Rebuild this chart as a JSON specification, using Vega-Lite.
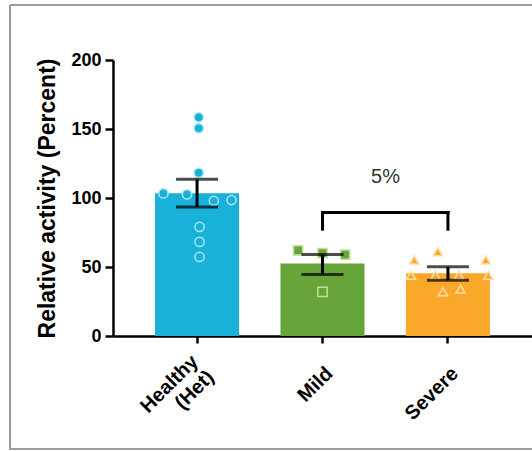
{
  "$schema": "https://vega.github.io/schema/vega-lite/v6.json",
  "autosize": {"type": "none"},
  "padding": {"left": 10, "top": 5, "right": 0, "bottom": 2},
  "width": 522,
  "height": 444,
  "background": "white",
  "config": {
    "view": {"stroke": "#9c9c9c", "strokeWidth": 2, "strokeDash": [522, 444, 966, 0]},
    "font": "Liberation Sans"
  },
  "datasets": {
    "summary": [
      {"group": "Healthy (Het)", "mean": 103.4, "lower": 93.5, "upper": 113.5},
      {"group": "Mild", "mean": 52.5, "lower": 44.5, "upper": 59.0},
      {"group": "Severe", "mean": 45.5, "lower": 40.4, "upper": 50.1}
    ],
    "points": [
      {"group": "Healthy (Het)", "value": 158.5, "jitter": 0.02},
      {"group": "Healthy (Het)", "value": 150.5, "jitter": 0.02},
      {"group": "Healthy (Het)", "value": 118.3, "jitter": 0.02},
      {"group": "Healthy (Het)", "value": 103.3, "jitter": -0.4},
      {"group": "Healthy (Het)", "value": 102.6, "jitter": -0.12},
      {"group": "Healthy (Het)", "value": 98.0, "jitter": 0.2},
      {"group": "Healthy (Het)", "value": 98.5, "jitter": 0.41},
      {"group": "Healthy (Het)", "value": 79.1, "jitter": 0.03},
      {"group": "Healthy (Het)", "value": 68.2, "jitter": 0.03},
      {"group": "Healthy (Het)", "value": 57.3, "jitter": 0.03},
      {"group": "Mild", "value": 62.0, "jitter": -0.29},
      {"group": "Mild", "value": 60.0, "jitter": 0.0},
      {"group": "Mild", "value": 59.0, "jitter": 0.27},
      {"group": "Mild", "value": 32.0, "jitter": 0.0},
      {"group": "Severe", "value": 61.0, "jitter": -0.12},
      {"group": "Severe", "value": 55.0, "jitter": -0.4},
      {"group": "Severe", "value": 55.0, "jitter": 0.45},
      {"group": "Severe", "value": 44.0, "jitter": -0.44},
      {"group": "Severe", "value": 44.0, "jitter": -0.15},
      {"group": "Severe", "value": 44.0, "jitter": 0.13},
      {"group": "Severe", "value": 44.0, "jitter": 0.48},
      {"group": "Severe", "value": 32.0, "jitter": -0.06},
      {"group": "Severe", "value": 34.0, "jitter": 0.15}
    ],
    "bracketLegs": [
      {"group": "Mild", "low": 77.4, "high": 89.5},
      {"group": "Severe", "low": 77.4, "high": 89.5}
    ],
    "bracketTop": [
      {"from": "Mild", "to": "Severe", "y": 89.5}
    ],
    "annotation": [
      {"group": "Mild", "y": 115.5, "label": "5%"}
    ]
  },
  "layer": [
    {
      "data": {"name": "summary"},
      "mark": {"type": "bar", "width": {"expr": "bandwidth('x')"}},
      "encoding": {
        "x": {
          "field": "group",
          "type": "nominal",
          "sort": ["Healthy (Het)", "Mild", "Severe"],
          "scale": {"domain": ["Healthy (Het)", "Mild", "Severe"], "range": [103, 522], "paddingInner": 0.33, "paddingOuter": 0.335},
          "axis": {
            "title": null,
            "offset": -113,
            "labelAngle": -45,
            "labelExpr": "datum.value === 'Healthy (Het)' ? ['Healthy', '(Het)\u00a0\u00a0\u00a0'] : datum.label",
            "labelFontWeight": "bold",
            "labelFontSize": 20,
            "labelColor": "black",
            "labelLineHeight": 22,
            "domainColor": "black",
            "domainWidth": 2.5,
            "tickColor": "black",
            "tickWidth": 2.5,
            "tickSize": 7,
            "labelPadding": {"condition": {"test": "datum.value === 'Healthy (Het)'", "value": 8}, "value": 20},
            "labelOffset": {"condition": {"test": "datum.value === 'Healthy (Het)'", "value": -9}, "value": 0}
          }
        },
        "y": {
          "field": "mean",
          "type": "quantitative",
          "scale": {"domain": [0, 200], "nice": false, "range": [331, 55]},
          "axis": {
            "title": "Relative activity (Percent)",
            "offset": -103,
            "titleFontSize": 23,
            "titleFontWeight": "bold",
            "titleColor": "black",
            "titlePadding": 11,
            "values": [0, 50, 100, 150, 200],
            "grid": false,
            "labelFontWeight": "bold",
            "labelFontSize": 18,
            "labelColor": "black",
            "labelPadding": 4,
            "domainColor": "black",
            "domainWidth": 2.5,
            "tickColor": "black",
            "tickWidth": 2.5,
            "tickSize": 8
          }
        },
        "color": {
          "field": "group",
          "type": "nominal",
          "scale": {"domain": ["Healthy (Het)", "Mild", "Severe"], "range": ["#19b0d9", "#67a53a", "#f9a82a"]},
          "legend": null
        }
      }
    },
    {
      "data": {"name": "points"},
      "mark": {"type": "point", "filled": true, "size": 85, "strokeWidth": 1.5, "opacity": 1},
      "encoding": {
        "x": {"field": "group", "type": "nominal"},
        "xOffset": {"field": "jitter", "type": "quantitative", "scale": {"domain": [-0.5, 0.5]}},
        "y": {"field": "value", "type": "quantitative"},
        "color": {"field": "group", "type": "nominal", "legend": null},
        "stroke": {
          "field": "group",
          "type": "nominal",
          "scale": {"domain": ["Healthy (Het)", "Mild", "Severe"], "range": ["#a6e6f5", "#bfe19a", "#fddca6"]},
          "legend": null
        },
        "shape": {
          "field": "group",
          "type": "nominal",
          "scale": {"domain": ["Healthy (Het)", "Mild", "Severe"], "range": ["circle", "square", "triangle-up"]},
          "legend": null
        }
      }
    },
    {
      "data": {"name": "summary"},
      "mark": {"type": "rule", "color": "black", "strokeWidth": 3},
      "encoding": {
        "x": {"field": "group", "type": "nominal"},
        "y": {"field": "lower", "type": "quantitative"},
        "y2": {"field": "upper"}
      }
    },
    {
      "data": {"name": "summary"},
      "mark": {"type": "tick", "color": "black", "thickness": 3, "size": 42},
      "encoding": {
        "x": {"field": "group", "type": "nominal"},
        "y": {"field": "lower", "type": "quantitative"}
      }
    },
    {
      "data": {"name": "summary"},
      "mark": {"type": "tick", "color": "black", "thickness": 3, "size": 42},
      "encoding": {
        "x": {"field": "group", "type": "nominal"},
        "y": {"field": "upper", "type": "quantitative"}
      }
    },
    {
      "data": {"name": "bracketLegs"},
      "mark": {"type": "rule", "color": "black", "strokeWidth": 3, "strokeCap": "square"},
      "encoding": {
        "x": {"field": "group", "type": "nominal"},
        "y": {"field": "low", "type": "quantitative"},
        "y2": {"field": "high"}
      }
    },
    {
      "data": {"name": "bracketTop"},
      "mark": {"type": "rule", "color": "black", "strokeWidth": 3, "strokeCap": "square"},
      "encoding": {
        "x": {"field": "from", "type": "nominal"},
        "x2": {"field": "to"},
        "y": {"field": "y", "type": "quantitative"}
      }
    },
    {
      "data": {"name": "annotation"},
      "mark": {"type": "text", "fontSize": 20, "color": "#333333", "dx": 63, "align": "center", "baseline": "middle"},
      "encoding": {
        "x": {"field": "group", "type": "nominal"},
        "y": {"field": "y", "type": "quantitative"},
        "text": {"field": "label"}
      }
    }
  ]
}
